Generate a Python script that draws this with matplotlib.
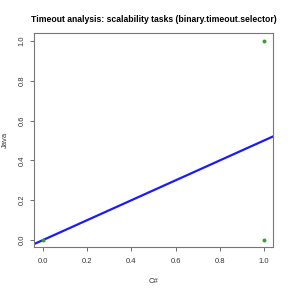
import matplotlib
matplotlib.use("Agg")
import matplotlib.pyplot as plt
import numpy as np

plt.rcParams['font.family'] = ['Liberation Sans', 'DejaVu Sans']

title = "Timeout analysis: scalability tasks (binary.timeout.selector)"
csharp = [0.0, 1.0, 1.0]
java = [0.0, 1.0, 0.0]
ticks = [0.0, 0.2, 0.4, 0.6, 0.8, 1.0]
tick_labels = ["0.0", "0.2", "0.4", "0.6", "0.8", "1.0"]

fig = plt.figure(figsize=(2.91, 2.91), dpi=100)
ax = fig.add_axes([0.117, 0.151, 0.821, 0.736])

x = np.array(csharp)
y = np.array(java)
slope, intercept = np.polyfit(x, y, 1)
xl = np.array([-0.04, 1.04])
ax.plot(xl, intercept + slope * xl, color='#1a1aff', lw=1.6, zorder=2)
ax.scatter(x, y, s=8, color='#33a02c', zorder=3, linewidths=0)

ax.set_xlim(-0.04, 1.04)
ax.set_ylim(-0.035, 1.04)
ax.set_xticks(ticks)
ax.set_xticklabels(tick_labels, fontsize=5.5, color='#333333')
ax.set_yticks(ticks)
ax.set_yticklabels(tick_labels, fontsize=5.5, color='#333333', rotation=90, va='center')
ax.tick_params(length=3, width=0.6, color='#555555', pad=3)
ax.tick_params(axis='x', pad=5)
for s in ax.spines.values():
    s.set_color('#777777')
    s.set_linewidth(0.8)
ax.set_xlabel("C#", fontsize=5.5, color='#333333', labelpad=9)
ax.set_ylabel("Java", fontsize=5.5, color='#333333', labelpad=7)
ax.set_title(title, fontsize=6.2, fontweight='bold', pad=8)

fig.savefig("out.png", dpi=100)
